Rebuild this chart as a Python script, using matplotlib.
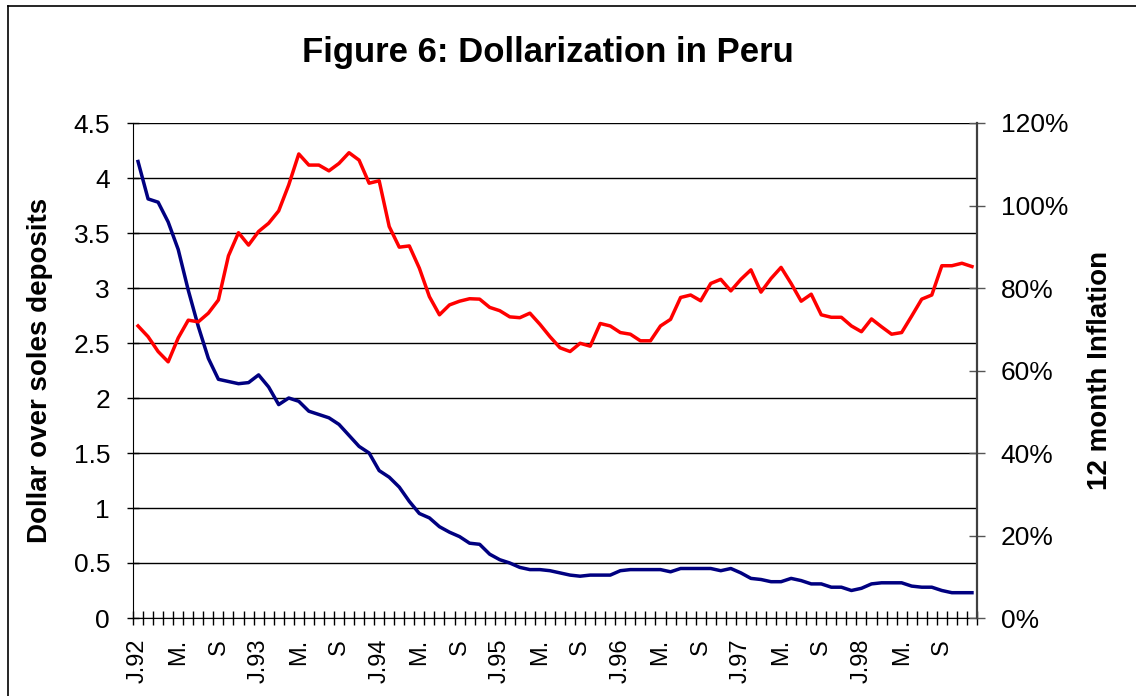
import numpy as np
import matplotlib
matplotlib.use("Agg")
import matplotlib.pyplot as plt
from matplotlib.lines import Line2D
from matplotlib.ticker import FixedLocator, FuncFormatter

plt.rcParams['font.family'] = ['Liberation Sans', 'DejaVu Sans']

# monthly observations, Jan 1992 .. Dec 1998
dollar_over_soles = [
    4.15, 3.81, 3.78, 3.60, 3.35, 2.98, 2.65, 2.36, 2.17, 2.15, 2.13, 2.14,
    2.21, 2.10, 1.94, 2.00, 1.97, 1.88, 1.85, 1.82, 1.76, 1.66, 1.56, 1.50,
    1.34, 1.28, 1.19, 1.06, 0.95, 0.91, 0.83, 0.78, 0.74, 0.68, 0.67, 0.58,
    0.53, 0.50, 0.46, 0.44, 0.44, 0.43, 0.41, 0.39, 0.38, 0.39, 0.39, 0.39,
    0.43, 0.44, 0.44, 0.44, 0.44, 0.42, 0.45, 0.45, 0.45, 0.45, 0.43, 0.45,
    0.41, 0.36, 0.35, 0.33, 0.33, 0.36, 0.34, 0.31, 0.31, 0.28, 0.28, 0.25,
    0.27, 0.31, 0.32, 0.32, 0.32, 0.29, 0.28, 0.28, 0.25, 0.23, 0.23, 0.23,
]
inflation_12m = [
    70.8, 68.2, 64.6, 62.1, 67.9, 72.2, 71.8, 73.9, 77.1, 87.8, 93.4, 90.4,
    93.7, 95.7, 98.7, 105.0, 112.5, 109.8, 109.8, 108.4, 110.2, 112.8, 111.0, 105.4,
    106.0, 94.9, 89.9, 90.2, 84.8, 77.9, 73.5, 75.9, 76.8, 77.4, 77.3, 75.3,
    74.5, 73.0, 72.8, 73.9, 71.2, 68.2, 65.5, 64.6, 66.6, 65.9, 71.4, 70.8,
    69.2, 68.8, 67.2, 67.2, 70.8, 72.4, 77.7, 78.3, 76.9, 81.1, 82.1, 79.3,
    82.1, 84.4, 79.0, 82.3, 85.0, 81.1, 76.8, 78.5, 73.5, 72.9, 72.9, 70.8,
    69.4, 72.5, 70.6, 68.8, 69.2, 73.2, 77.3, 78.3, 85.4, 85.4, 86.0, 85.2,
]
years = ["92", "93", "94", "95", "96", "97", "98"]
month_labels = []
for yy in years:
    month_labels += ["J." + yy, "M.", "S"]

n = len(dollar_over_soles)
x = np.arange(n)
infl = np.array(inflation_12m) / 100.0

fig = plt.figure(figsize=(11.36, 6.96), dpi=100)
ax = fig.add_axes([133 / 1136, 1 - 618 / 696, 844 / 1136, 495 / 696])
ax2 = ax.twinx()

ax.plot(x, dollar_over_soles, color="#000080", lw=2.5, solid_joinstyle="round", zorder=3)
ax2.plot(x, infl, color="#FF0000", lw=2.5, solid_joinstyle="round", zorder=3)

ax.set_xlim(-0.5, n - 0.5)
ax.set_ylim(0, 4.5)
ax2.set_ylim(0, 1.2)

ax.set_yticks(np.arange(0, 4.51, 0.5))
ax.yaxis.set_major_formatter(FuncFormatter(lambda v, p: f"{v:g}"))
ax2.set_yticks(np.arange(0, 1.21, 0.2))
ax2.yaxis.set_major_formatter(FuncFormatter(lambda v, p: f"{v * 100:.0f}%"))

# category labels every 4 months, tick marks between months
ax.xaxis.set_major_locator(FixedLocator(np.arange(0, n, 4)))
ax.set_xticklabels(month_labels, rotation=90, va="top", ha="center", fontsize=17)
ax.xaxis.set_minor_locator(FixedLocator(np.arange(-0.5, n, 1)))
ax.tick_params(axis="x", which="major", length=0, pad=15)
ax.tick_params(axis="x", which="minor", direction="inout", length=10, width=1, color="black")

ax.tick_params(axis="y", direction="inout", length=9, width=1, labelsize=19, pad=12)
ax2.tick_params(axis="y", direction="inout", length=12, width=1, labelsize=19, pad=11,
                color="#555555")

ax.grid(axis="y", color="black", lw=1)
ax.set_axisbelow(True)

for a in (ax, ax2):
    a.spines["top"].set_visible(False)
ax.spines["right"].set_visible(False)
ax2.spines["left"].set_visible(False)
ax2.spines["bottom"].set_visible(False)
ax2.spines["right"].set_color("#404040")
ax2.spines["right"].set_linewidth(1.6)
ax.spines["left"].set_color("black")
ax.spines["bottom"].set_color("black")

fig.text(548 / 1136, 1 - 62 / 696, "Figure 6: Dollarization in Peru",
         ha="center", va="baseline", fontsize=25, fontweight="bold")
fig.text(40 / 1136, 1 - 370 / 696, "Dollar over soles deposits", rotation=90,
         ha="center", va="center", fontsize=20, fontweight="bold")
fig.text(1100 / 1136, 1 - 370 / 696, "12 month Inflation", rotation=90,
         ha="center", va="center", fontsize=20, fontweight="bold")

# chart-area frame (left and top edges visible)
fig.add_artist(Line2D([8 / 1136, 8 / 1136], [0, 1 - 6 / 696], color="black", lw=1.2))
fig.add_artist(Line2D([8 / 1136, 1], [1 - 6 / 696, 1 - 6 / 696], color="black", lw=1.2))

fig.savefig("out.png", dpi=100)
